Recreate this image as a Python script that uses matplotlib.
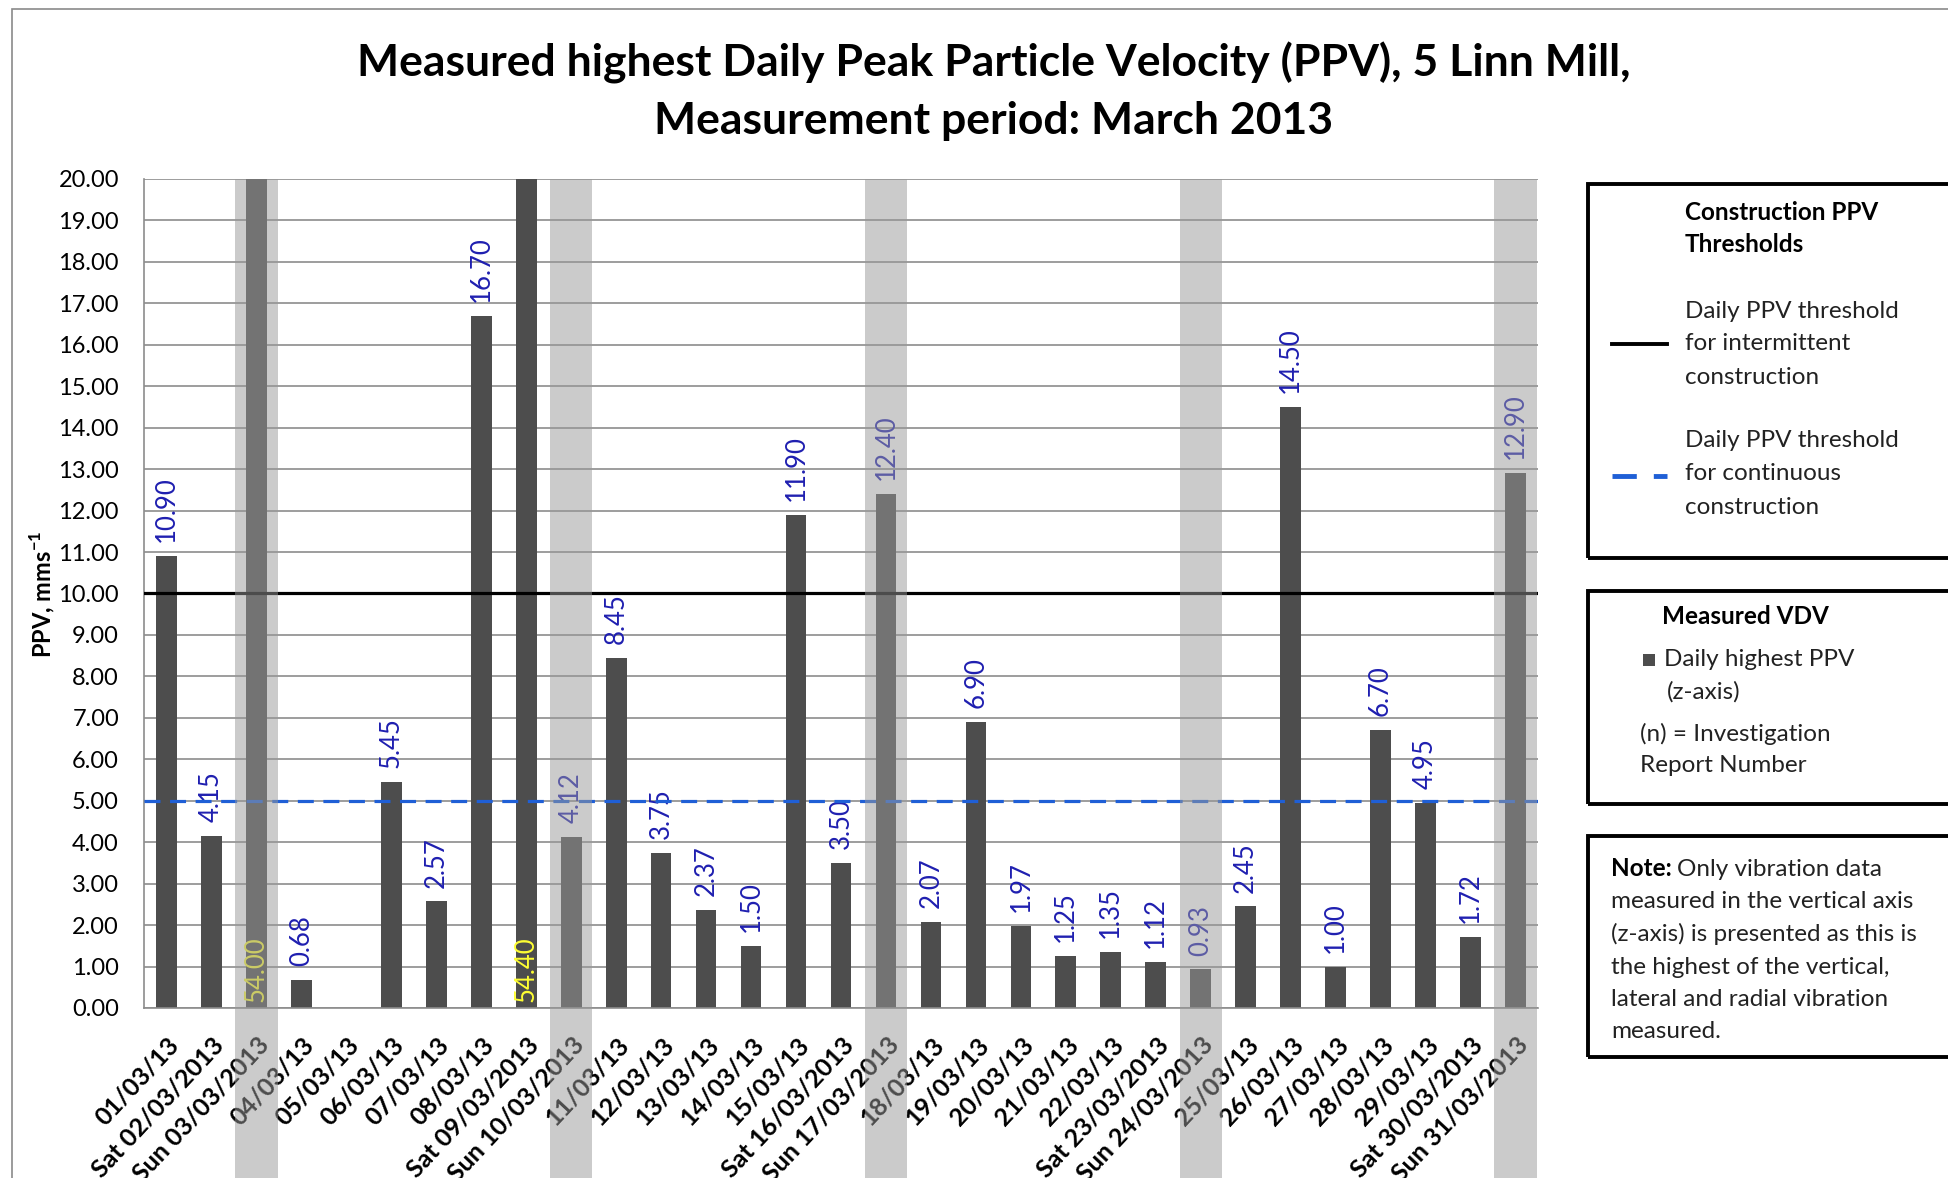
import numpy as np
import matplotlib.pyplot as plt
import matplotlib.transforms as mtransforms
from matplotlib.patches import Rectangle
from matplotlib.lines import Line2D

plt.rcParams['font.family'] = ['Lato', 'DejaVu Sans']

dates = ["01/03/13", "Sat 02/03/2013", "Sun 03/03/2013", "04/03/13", "05/03/13",
         "06/03/13", "07/03/13", "08/03/13", "Sat 09/03/2013", "Sun 10/03/2013",
         "11/03/13", "12/03/13", "13/03/13", "14/03/13", "15/03/13",
         "Sat 16/03/2013", "Sun 17/03/2013", "18/03/13", "19/03/13", "20/03/13",
         "21/03/13", "22/03/13", "Sat 23/03/2013", "Sun 24/03/2013", "25/03/13",
         "26/03/13", "27/03/13", "28/03/13", "29/03/13", "Sat 30/03/2013",
         "Sun 31/03/2013"]
# None = no measurement that day
ppv = [10.90, 4.15, 54.00, 0.68, None, 5.45, 2.57, 16.70, 54.40, 4.12,
       8.45, 3.75, 2.37, 1.50, 11.90, 3.50, 12.40, 2.07, 6.90, 1.97,
       1.25, 1.35, 1.12, 0.93, 2.45, 14.50, 1.00, 6.70, 4.95, 1.72, 12.90]
intermittent_limit = 10.0
continuous_limit = 5.0
y_max = 20.0

W, H = 1948, 1178


def fx(x):
    return x / W


def fy(y):
    return 1 - y / H


fig = plt.figure(figsize=(W / 100, H / 100), dpi=100)

# thin outer chart border (right/bottom run off the picture)
fig.add_artist(Rectangle((fx(12), fy(1200)), (1960 - 12) / W, (1200 - 9) / H,
                         transform=fig.transFigure, fill=False,
                         edgecolor='#8a8a8a', lw=1.2, clip_on=False))

ax = fig.add_axes([fx(144), fy(1008), (1538 - 144) / W, (1008 - 179) / H])

x = np.arange(len(dates))
vals = np.array([np.nan if v is None else v for v in ppv])
ax.bar(x, vals, width=0.46, color='#4d4d4d', zorder=2)

vfs = 18.5
for xi, v in zip(x, vals):
    if np.isnan(v):
        continue
    if v > y_max:
        ax.annotate("%.2f" % v, (xi, 0), xytext=(0, 4), textcoords='offset points',
                    rotation=90, ha='center', va='bottom', color='#ffff33',
                    fontsize=vfs, zorder=3)
    else:
        ax.annotate("%.2f" % v, (xi, v), xytext=(0, 10), textcoords='offset points',
                    rotation=90, ha='center', va='bottom', color='#1f1fb0',
                    fontsize=vfs, zorder=3)

ax.axhline(intermittent_limit, color='black', lw=2.3, zorder=4)
ax.axhline(continuous_limit, color='#1f5fd6', lw=2.3, dashes=(5, 3), zorder=4)

# weekend (Sunday) shading, drawn over the bars and down through the labels
blend = mtransforms.blended_transform_factory(ax.transData, ax.transAxes)
for i, d in enumerate(dates):
    if d.startswith("Sun"):
        ax.add_patch(Rectangle((i - 0.47, -0.35), 0.94, 1.35, transform=blend,
                               facecolor='#999999', alpha=0.5, lw=0,
                               clip_on=False, zorder=5))

ax.set_xlim(-0.5, len(dates) - 0.5)
ax.set_ylim(0, y_max)
ticks = np.arange(0, y_max + 1, 1)
ax.set_yticks(ticks)
ax.set_yticklabels(["%.2f" % t for t in ticks], fontsize=17)
ax.set_xticks(x)
ax.set_xticklabels(dates, rotation=47, ha='right', va='top', rotation_mode='anchor',
                   fontweight='bold', fontsize=18)
shift = mtransforms.ScaledTranslation(4 / 100, 0, fig.dpi_scale_trans)
for lab in ax.get_xticklabels():
    lab.set_transform(lab.get_transform() + shift)
ax.tick_params(axis='both', length=0)
ax.tick_params(axis='y', pad=18)
ax.tick_params(axis='x', pad=18)
ax.grid(axis='y', color='#8c8c8c', lw=1.2)
ax.set_axisbelow(True)
for s in ['top', 'right']:
    ax.spines[s].set_visible(False)
for s in ['left', 'bottom']:
    ax.spines[s].set_color('#8c8c8c')
    ax.spines[s].set_linewidth(1.2)

fig.text(fx(42), fy(594), r'PPV, mms$^{\mathregular{-1}}$', rotation=90,
         ha='center', va='center', fontsize=17, fontweight='bold')

fig.text(fx(994), fy(63), "Measured highest Daily Peak Particle Velocity (PPV), 5 Linn Mill,",
         ha='center', va='center', fontsize=32, fontweight='bold')
fig.text(fx(994), fy(121), "Measurement period: March 2013",
         ha='center', va='center', fontsize=32, fontweight='bold')

# side boxes
for top, bot in [(184, 558), (591, 804), (836, 1057)]:
    fig.add_artist(Rectangle((fx(1588), fy(bot)), (1980 - 1588) / W, (bot - top) / H,
                             transform=fig.transFigure, fill=False,
                             edgecolor='black', lw=2.8, clip_on=False))

lfs = 17.5
tx = 1685
fig.text(fx(tx), fy(213), "Construction PPV", fontsize=lfs, fontweight='bold', va='center')
fig.text(fx(tx), fy(245), "Thresholds", fontsize=lfs, fontweight='bold', va='center')
for y, t in zip([311, 344, 377], ["Daily PPV threshold", "for intermittent", "construction"]):
    fig.text(fx(tx), fy(y), t, fontsize=lfs, va='center', color='#222222')
for y, t in zip([441, 474, 507], ["Daily PPV threshold", "for continuous", "construction"]):
    fig.text(fx(tx), fy(y), t, fontsize=lfs, va='center', color='#222222')
fig.add_artist(Line2D([fx(1612), fx(1667)], [fy(344), fy(344)], color='black', lw=2.8,
                      transform=fig.transFigure))
fig.add_artist(Line2D([fx(1612), fx(1667)], [fy(476), fy(476)], color='#1f5fd6', lw=3.5,
                      dashes=(5, 3.5), transform=fig.transFigure))

fig.text(fx(1745), fy(617), "Measured VDV", fontsize=lfs, fontweight='bold',
         ha='center', va='center')
fig.add_artist(Rectangle((fx(1643), fy(666)), 12 / W, 12 / H, transform=fig.transFigure,
                         facecolor='#4d4d4d', lw=0))
fig.text(fx(1664), fy(660), "Daily highest PPV", fontsize=lfs, va='center', color='#222222')
fig.text(fx(1667), fy(692), "(z-axis)", fontsize=lfs, va='center', color='#222222')
fig.text(fx(1640), fy(734), "(n) = Investigation", fontsize=lfs, va='center', color='#222222')
fig.text(fx(1640), fy(766), "Report Number", fontsize=lfs, va='center', color='#222222')

note = fig.text(fx(1611), fy(869), "Note:", fontsize=lfs, fontweight='bold', va='center')
fig.canvas.draw()
bb = note.get_window_extent()
fig.text(fx(bb.x1 + 5), fy(869), "Only vibration data", fontsize=lfs, va='center',
         color='#222222')
for y, t in zip([902, 934, 967, 1000, 1032],
                ["measured in the vertical axis", "(z-axis) is presented as this is",
                 "the highest of the vertical,", "lateral and radial vibration",
                 "measured."]):
    fig.text(fx(1611), fy(y), t, fontsize=lfs, va='center', color='#222222')

fig.savefig("out.png", dpi=100)
